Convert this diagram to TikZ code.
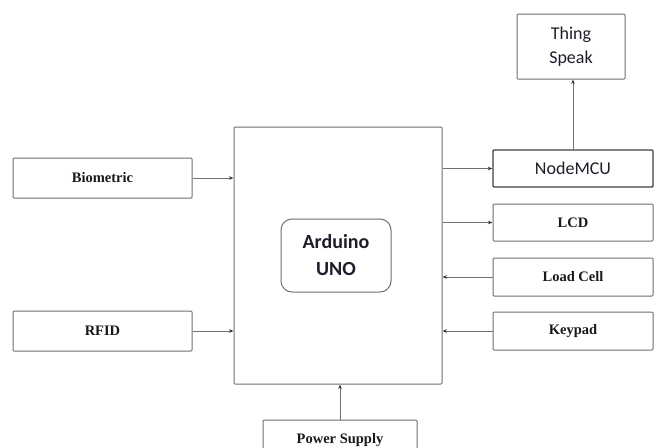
\documentclass[tikz,border=0pt]{standalone}
\usepackage{fontspec}
\setmainfont{Liberation Serif}
\newfontfamily\carfont{Carlito}
\usetikzlibrary{arrows.meta}
\definecolor{ln}{HTML}{707070}
\definecolor{tx}{HTML}{1E1E2A}
\begin{document}
\begin{tikzpicture}[x=1pt,y=-1pt,
  blk/.style={draw=ln,line width=1pt,rounded corners=1pt,inner sep=0pt,font=\fontsize{14.5}{16}\selectfont\bfseries,text=black!90},
  cblk/.style={draw=ln,line width=1pt,rounded corners=1pt,inner sep=0pt,font=\carfont\fontsize{18}{24}\selectfont,text=tx,align=center},
  arr/.style={draw=ln,line width=0.9pt,-{Stealth[length=4.5pt,width=3.5pt,color=black!80]}}]
\clip (0,0) rectangle (660,447);
\fill[white] (0,0) rectangle (660,447);
\node[blk,minimum width=208pt,minimum height=257pt] (main) at (338,255.5) {};
\node[draw=ln,line width=1pt,rounded corners=11pt,minimum width=110pt,minimum height=73pt,inner sep=0pt,
  font=\carfont\bfseries\fontsize{20}{27}\selectfont,text=tx,align=center] (ard) at (336,255.5) {Arduino\\UNO};
\node[blk,minimum width=179pt,minimum height=40pt] (bio) at (102.5,178) {Biometric};
\node[blk,minimum width=179pt,minimum height=40pt] (rfid) at (102.5,331) {RFID};
\node[cblk,line width=1.4pt,draw=black!75,minimum width=160pt,minimum height=37pt] (mcu) at (573,168.5) {NodeMCU};
\node[cblk,minimum width=108pt,minimum height=65pt] (ts) at (571,46.5) {Thing\\Speak};
\node[blk,minimum width=160pt,minimum height=37pt] (lcd) at (573,222.5) {LCD};
\node[blk,minimum width=160pt,minimum height=38pt] (load) at (573,277) {Load Cell};
\node[blk,minimum width=160pt,minimum height=38pt] (key) at (573,331) {Keypad};
\node[blk,minimum width=154pt,minimum height=40pt] (ps) at (340,440) {Power Supply};
\draw[arr] (bio.east) -- (bio.east -| main.west);
\draw[arr] (rfid.east) -- (rfid.east -| main.west);
\draw[arr] (mcu.west -| main.east) -- (mcu.west);
\draw[arr] (lcd.west -| main.east) -- (lcd.west);
\draw[arr] (load.west) -- (load.west -| main.east);
\draw[arr] (key.west) -- (key.west -| main.east);
\draw[arr] (mcu.north) -- (mcu.north |- ts.south);
\draw[arr] (ps.north) -- (ps.north |- main.south);
\end{tikzpicture}
\end{document}
